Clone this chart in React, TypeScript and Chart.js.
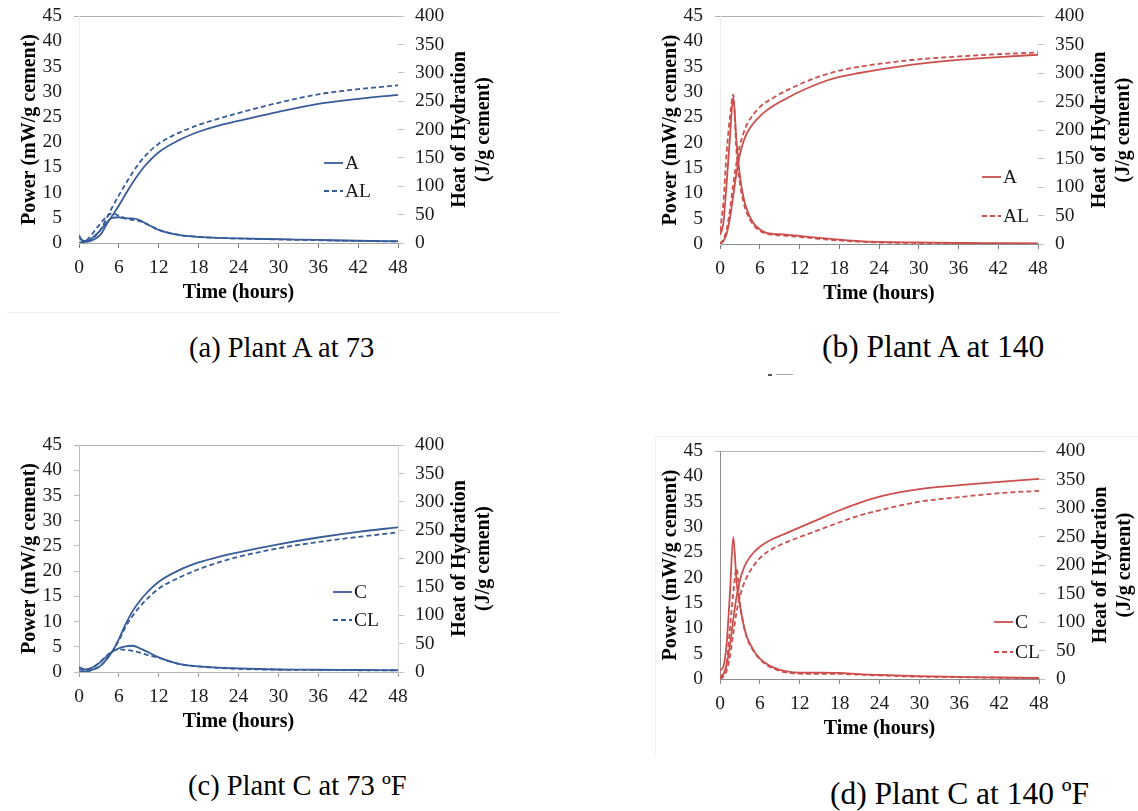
import React, { useEffect, useRef } from "react";
import { Chart, registerables } from "chart.js";

Chart.register(...registerables);

const SERIF = "'Liberation Serif', 'Times New Roman', Tinos, 'DejaVu Serif', Times, serif";

// ---------- shared axes ----------
const TIME_H = [0, 0.5, 1, 1.5, 2, 2.5, 3, 3.5, 4, 5, 6, 7, 8, 9, 10, 12, 15, 18, 21, 24, 30, 36, 42, 48];
const X_MIN = 0;
const X_MAX = 48;
const X_STEP = 6;
const POWER_MAX = 45;
const POWER_STEP = 5;
const HEAT_MAX = 400;
const HEAT_STEP = 50;

const X_TITLE = "Time (hours)";
const POWER_TITLE = "Power (mW/g cement)";
const HEAT_TITLE = ["Heat of Hydration", "(J/g cement)"];

// ---------- (a) Plant A at 73 ----------
const A73_LABELS = ["A", "AL"];
const A73_POWER_A = [1.6, 0.4, 0.4, 0.6, 1.0, 1.6, 2.2, 3.0, 3.8, 5.0, 5.1, 4.9, 4.9, 4.6, 3.9, 2.6, 1.6, 1.2, 1.0, 0.9, 0.75, 0.6, 0.45, 0.35];
const A73_POWER_AL = [1.0, 0.6, 0.5, 1.0, 1.8, 2.7, 3.5, 4.3, 5.0, 5.9, 5.4, 4.9, 4.6, 4.4, 3.9, 2.6, 1.6, 1.2, 1.0, 0.9, 0.7, 0.55, 0.4, 0.3];
const A73_HEAT_A = [0, 1, 2, 3, 5, 8, 12, 19, 30, 48, 66, 86, 105, 122, 137, 160, 181, 196, 207, 215, 231, 245, 254, 261];
const A73_HEAT_AL = [0, 1, 2, 4, 8, 13, 19, 28, 40, 63, 84, 104, 123, 140, 154, 175, 194, 208, 219, 229, 247, 262, 271, 278];

// ---------- (b) Plant A at 140 ----------
const A140_LABELS = ["A", "AL"];
const A140_POWER_A = [1.8, 4, 12, 21, 29, 20, 13.5, 9.5, 7, 4.2, 2.9, 2.2, 2.0, 1.95, 1.85, 1.6, 1.2, 0.85, 0.55, 0.4, 0.3, 0.2, 0.15, 0.1];
const A140_POWER_AL = [2.5, 8, 18, 25, 29.5, 18, 12, 8.5, 6.3, 3.8, 2.6, 2.0, 1.8, 1.7, 1.6, 1.4, 1.0, 0.7, 0.45, 0.3, 0.2, 0.12, 0.08, 0.05];
const A140_HEAT_A = [0, 5, 18, 45, 85, 125, 157, 178, 193, 211, 224, 234, 242, 249, 255, 267, 282, 293, 300, 306, 316, 323, 328, 332];
const A140_HEAT_AL = [0, 8, 25, 60, 105, 143, 173, 193, 208, 227, 240, 249, 256, 263, 269, 280, 294, 304, 311, 316, 324, 329, 333, 336];

// ---------- (c) Plant C at 73 ºF ----------
const C73_LABELS = ["C", "CL"];
const C73_POWER_C = [1.0, 0.7, 0.5, 0.6, 0.9, 1.2, 1.7, 2.3, 2.9, 4.0, 4.7, 5.1, 5.2, 4.8, 4.2, 2.9, 1.6, 1.1, 0.85, 0.7, 0.5, 0.45, 0.4, 0.35];
const C73_POWER_CL = [0.6, 0.4, 0.4, 0.6, 0.9, 1.3, 1.8, 2.4, 3.0, 4.1, 4.5, 4.4, 4.2, 3.9, 3.5, 2.8, 1.6, 1.1, 0.8, 0.6, 0.45, 0.4, 0.35, 0.3];
const C73_HEAT_C = [0, 0.5, 1, 2, 4, 6, 9, 14, 20, 36, 58, 84, 106, 123, 137, 159, 179, 193, 203, 211, 225, 237, 247, 255];
const C73_HEAT_CL = [0, 0.5, 1, 2, 4, 6, 9, 14, 20, 36, 56, 79, 98, 113, 126, 147, 166, 181, 193, 203, 218, 229, 238, 246];

// ---------- (d) Plant C at 140 ºF ----------
const C140_LABELS = ["C", "CL"];
const C140_POWER_C = [1.7, 2.4, 7, 17, 28, 19, 14.5, 11, 8.5, 5.8, 4.0, 3.0, 2.3, 1.8, 1.5, 1.25, 1.25, 1.2, 0.95, 0.8, 0.55, 0.4, 0.3, 0.2];
const C140_POWER_CL = [0.5, 1.0, 3, 10, 17, 21.8, 15, 11, 8.3, 5.6, 3.9, 2.8, 2.1, 1.6, 1.3, 1.05, 1.0, 1.0, 0.85, 0.7, 0.45, 0.35, 0.25, 0.15];
const C140_HEAT_C = [0, 8, 25, 60, 105, 145, 173, 192, 205, 221, 232, 240, 246, 251, 256, 266, 281, 296, 309, 320, 333, 340, 346, 351];
const C140_HEAT_CL = [0, 4, 15, 40, 80, 118, 145, 164, 178, 198, 212, 222, 229, 235, 240, 249, 262, 275, 287, 296, 311, 319, 326, 330];

const CAPTIONS = ["(a) Plant A at 73", "(b) Plant A at 140", "(c) Plant C at 73 ºF", "(d) Plant C at 140 ºF"];

const BLUE = "#375C9A";
const RED = "#CC4F4D";

// layout constants (px)
const PAD_L = 14;
const W_L = 65;
const W_R = 98;
const H_X = 66;
const PAD_T = 26;

type Panel = {
  id: string;
  left: number;
  top: number;
  w: number;
  h: number;
  color: string;
  labels: string[];
  power: number[][];
  heat: number[][];
  legend: { dx: number; dy1: number; dy2: number };
  leftLine: string;
  leftTick: string | null;
  rightLine: string | null;
  rightTick: string;
  bottomLine: string;
  xTick: string;
  topLine: string;
};

const PANELS: Panel[] = [
  {
    id: "a", left: 79, top: 16, w: 319, h: 227, color: BLUE, labels: A73_LABELS,
    power: [A73_POWER_A, A73_POWER_AL], heat: [A73_HEAT_A, A73_HEAT_AL],
    legend: { dx: 245, dy1: 147, dy2: 175 },
    leftLine: "#ececec", leftTick: null, rightLine: null, rightTick: "#c4c4c4",
    bottomLine: "#a8a8a8", xTick: "#7a7a7a", topLine: "#b0b0b0",
  },
  {
    id: "b", left: 720, top: 16, w: 318, h: 228, color: RED, labels: A140_LABELS,
    power: [A140_POWER_A, A140_POWER_AL], heat: [A140_HEAT_A, A140_HEAT_AL],
    legend: { dx: 262, dy1: 161, dy2: 200 },
    leftLine: "#ececec", leftTick: null, rightLine: null, rightTick: "#c4c4c4",
    bottomLine: "#8c8c8c", xTick: "#7a7a7a", topLine: "#b0b0b0",
  },
  {
    id: "c", left: 79, top: 445, w: 319, h: 227, color: BLUE, labels: C73_LABELS,
    power: [C73_POWER_C, C73_POWER_CL], heat: [C73_HEAT_C, C73_HEAT_CL],
    legend: { dx: 254, dy1: 147, dy2: 175 },
    leftLine: "#bdbdbd", leftTick: "#bdbdbd", rightLine: "#d4d4d4", rightTick: "#c4c4c4",
    bottomLine: "#b4b4b4", xTick: "#a0a0a0", topLine: "#b0b0b0",
  },
  {
    id: "d", left: 720, top: 451, w: 319, h: 228, color: RED, labels: C140_LABELS,
    power: [C140_POWER_C, C140_POWER_CL], heat: [C140_HEAT_C, C140_HEAT_CL],
    legend: { dx: 274, dy1: 171, dy2: 201 },
    leftLine: "#8c8c8c", leftTick: null, rightLine: null, rightTick: "#c4c4c4",
    bottomLine: "#8c8c8c", xTick: "#8c8c8c", topLine: "#b0b0b0",
  },
];

const toXY = (ys: number[]) => ys.map((y, i) => ({ x: TIME_H[i], y }));

function PanelChart({ p }: { p: Panel }) {
  const ref = useRef<HTMLCanvasElement | null>(null);
  const cw = PAD_L + W_L + p.w + W_R;
  const ch = PAD_T + p.h + H_X;

  useEffect(() => {
    if (!ref.current) return;
    const tickFont = { family: SERIF, size: 19.5 };
    const titleFont = { family: SERIF, size: 20, weight: "bold" as const };
    const line = (data: number[], axis: string, dashed: boolean, label: string) => ({
      label,
      data: toXY(data),
      yAxisID: axis,
      borderColor: p.color,
      backgroundColor: p.color,
      borderWidth: 1.8,
      borderDash: dashed ? [5, 3] : [],
      pointRadius: 0,
      fill: false,
      cubicInterpolationMode: "monotone" as const,
    });

    const overlay = {
      id: "overlay-" + p.id,
      afterDatasetsDraw(chart: any) {
        const { ctx, chartArea: a } = chart;
        ctx.save();
        const x0 = a.left + p.legend.dx;
        [p.legend.dy1, p.legend.dy2].forEach((dy, i) => {
          const y = a.top + dy;
          ctx.beginPath();
          ctx.setLineDash(i ? [5, 3] : []);
          ctx.strokeStyle = p.color;
          ctx.lineWidth = 1.8;
          ctx.moveTo(x0, y);
          ctx.lineTo(x0 + 19, y);
          ctx.stroke();
          ctx.setLineDash([]);
          ctx.fillStyle = "#1a1a1a";
          ctx.font = `19.5px ${SERIF}`;
          ctx.textAlign = "left";
          ctx.textBaseline = "middle";
          ctx.fillText(p.labels[i], x0 + 21, y + 1);
        });
        ctx.restore();
      },
      afterDraw(chart: any) {
        const { ctx, chartArea: a } = chart;
        ctx.save();
        ctx.translate(a.right + 62, (a.top + a.bottom) / 2);
        ctx.rotate(-Math.PI / 2);
        ctx.font = `bold 20px ${SERIF}`;
        ctx.textAlign = "center";
        ctx.textBaseline = "middle";
        ctx.fillStyle = "#000";
        ctx.fillText(HEAT_TITLE[0], 0, 0);
        ctx.fillText(HEAT_TITLE[1], 0, 24);
        ctx.restore();
      },
    };

    const chart = new Chart(ref.current, {
      type: "line",
      data: {
        datasets: [
          line(p.power[0], "y", false, p.labels[0] + " power"),
          line(p.power[1], "y", true, p.labels[1] + " power"),
          line(p.heat[0], "y1", false, p.labels[0] + " heat"),
          line(p.heat[1], "y1", true, p.labels[1] + " heat"),
        ],
      },
      options: {
        responsive: false,
        maintainAspectRatio: false,
        animation: false,
        devicePixelRatio: 1,
        layout: { padding: { left: PAD_L, top: PAD_T, right: 0, bottom: 0 } },
        plugins: { legend: { display: false }, tooltip: { enabled: false }, title: { display: false } },
        scales: {
          x: {
            type: "linear",
            min: X_MIN,
            max: X_MAX,
            afterFit: (s: any) => { s.height = H_X; },
            ticks: { stepSize: X_STEP, font: tickFont, color: "#1a1a1a", padding: 8, maxRotation: 0, autoSkip: false },
            grid: { display: true, drawOnChartArea: false, drawTicks: true, tickLength: 5, tickColor: p.xTick },
            border: { display: true, color: p.bottomLine, width: 1 },
            title: { display: true, text: X_TITLE, font: titleFont, color: "#000", padding: { top: 4, bottom: 4 } },
          },
          y: {
            type: "linear",
            position: "left",
            min: 0,
            max: POWER_MAX,
            afterFit: (s: any) => { s.width = W_L; },
            ticks: { stepSize: POWER_STEP, font: tickFont, color: "#1a1a1a", padding: 12, autoSkip: false },
            grid: {
              display: true,
              drawOnChartArea: true,
              drawTicks: true,
              tickLength: 5,
              color: (c: any) => (c.tick && c.tick.value === POWER_MAX ? p.topLine : "rgba(0,0,0,0)"),
              tickColor: (c: any) =>
                c.tick && c.tick.value === POWER_MAX ? p.topLine : p.leftTick ? p.leftTick : "rgba(0,0,0,0)",
            },
            border: { display: true, color: p.leftLine, width: 1 },
            title: { display: true, text: POWER_TITLE, font: titleFont, color: "#000", padding: { top: 4, bottom: 4 } },
          },
          y1: {
            type: "linear",
            position: "right",
            min: 0,
            max: HEAT_MAX,
            afterFit: (s: any) => { s.width = W_R; },
            ticks: { stepSize: HEAT_STEP, font: tickFont, color: "#1a1a1a", padding: 11, autoSkip: false },
            grid: { display: true, drawOnChartArea: false, drawTicks: true, tickLength: 6, tickColor: p.rightTick },
            border: { display: !!p.rightLine, color: p.rightLine || "rgba(0,0,0,0)", width: 1 },
          },
        },
      } as any,
      plugins: [overlay],
    });
    return () => chart.destroy();
  }, []);

  return (
    <div style={{ position: "absolute", left: p.left - PAD_L - W_L, top: p.top - PAD_T, width: cw, height: ch }}>
      <canvas ref={ref} width={cw} height={ch} style={{ display: "block", width: cw, height: ch }} />
    </div>
  );
}

const CAPTION_POS = [
  { left: 189, cy: 349, size: 28.5 },
  { left: 822, cy: 349, size: 31.5 },
  { left: 188, cy: 787, size: 28.5 },
  { left: 830, cy: 796, size: 31.5 },
];

export default function App() {
  return (
    <div style={{ position: "absolute", left: 0, top: 0, width: 1138, height: 811, overflow: "hidden", background: "#fff" }}>
      <div style={{ position: "absolute", left: 7, top: 312, width: 553, height: 1, background: "#efefef" }} />
      <div style={{ position: "absolute", left: 655, top: 436, width: 483, height: 1, background: "#efefef" }} />
      <div style={{ position: "absolute", left: 655, top: 436, width: 1, height: 320, background: "#f2f2f2" }} />
      {PANELS.map((p) => (
        <PanelChart key={p.id} p={p} />
      ))}
      {CAPTIONS.map((c, i) => {
        const cp = CAPTION_POS[i];
        const lh = Math.round(cp.size * 1.15);
        return (
          <div
            key={c}
            style={{
              position: "absolute",
              left: cp.left,
              top: cp.cy - lh / 2 - 2,
              fontFamily: SERIF,
              fontSize: cp.size,
              lineHeight: lh + "px",
              whiteSpace: "nowrap",
              color: "#000",
            }}
          >
            {c}
          </div>
        );
      })}
      <div style={{ position: "absolute", left: 768, top: 374, width: 4, height: 2, background: "#555" }} />
      <div style={{ position: "absolute", left: 776, top: 374, width: 17, height: 1, background: "#aaa" }} />
    </div>
  );
}
